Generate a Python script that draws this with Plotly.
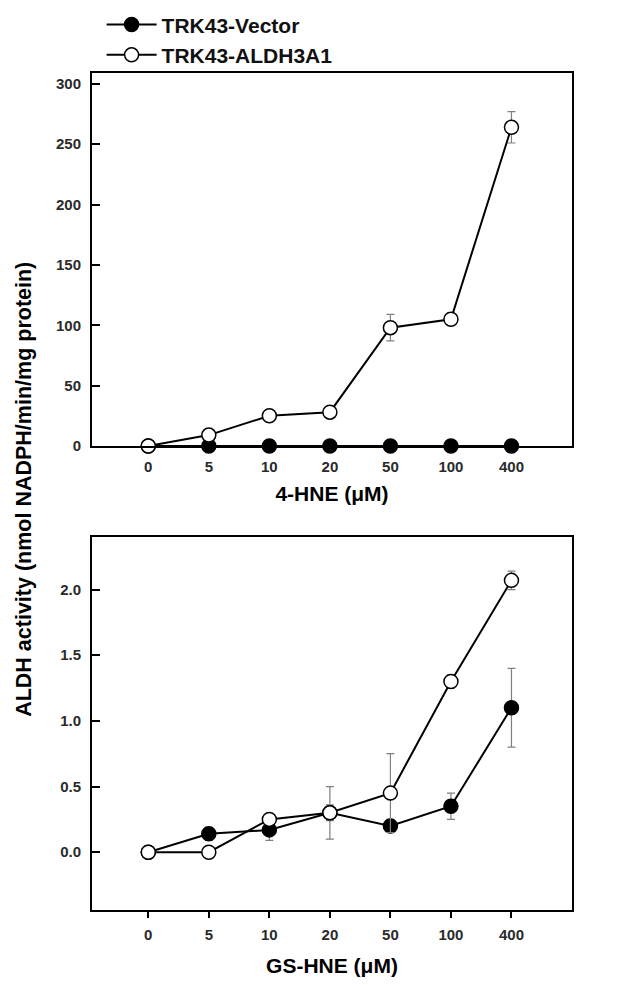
import plotly.graph_objects as go

conc_labels = ["0", "5", "10", "20", "50", "100", "400"]

hne_vector = [0, 0, 0, 0, 0, 0, 0]
hne_vector_err = [0, 0, 0, 0, 0, 0, 0]
hne_aldh = [0, 9, 25, 28, 98, 105, 264]
hne_aldh_err = [0, 1.5, 2, 4, 11, 5, 13]

gs_vector = [0, 0.14, 0.17, 0.30, 0.20, 0.35, 1.10]
gs_vector_err = [0, 0.05, 0.08, 0.06, 0.05, 0.10, 0.30]
gs_aldh = [0, 0, 0.25, 0.30, 0.45, 1.30, 2.07]
gs_aldh_err = [0, 0, 0.04, 0.20, 0.30, 0.05, 0.07]

top_ticks = [0, 50, 100, 150, 200, 250, 300]
bottom_ticks = [0.0, 0.5, 1.0, 1.5, 2.0]

xpos = list(range(len(conc_labels)))
FONT = "Liberation Sans, Arial, sans-serif"
TICKFONT = dict(family=FONT, size=15, color="#2a2a2a")

fig = go.Figure()

def add(y, err, filled, xa, ya, name, show):
    fig.add_trace(go.Scatter(
        x=xpos, y=y, mode="lines+markers", name="<b>" + name + "</b>", showlegend=show,
        xaxis=xa, yaxis=ya, cliponaxis=False,
        line=dict(color="black", width=2),
        marker=dict(size=14, symbol="circle",
                    color="black" if filled else "white",
                    line=dict(color="black", width=1.5)),
        error_y=dict(type="data", array=err, visible=True,
                     color="#808080", thickness=1.2, width=4),
    ))

add(hne_vector, hne_vector_err, True, "x", "y", "TRK43-Vector", True)
add(hne_aldh, hne_aldh_err, False, "x", "y", "TRK43-ALDH3A1", True)
add(gs_vector, gs_vector_err, True, "x2", "y2", "TRK43-Vector", False)
add(gs_aldh, gs_aldh_err, False, "x2", "y2", "TRK43-ALDH3A1", False)

axis_common = dict(showline=True, mirror=True, linecolor="black", linewidth=2,
                   showgrid=False, zeroline=False, tickfont=TICKFONT)

bold = lambda v: "<b>" + v + "</b>"

fig.update_layout(
    width=638, height=985,
    margin=dict(l=84, r=74, t=65, b=83, autoexpand=False),
    plot_bgcolor="white", paper_bgcolor="white",
    font=dict(family=FONT, color="black"),
    legend=dict(xref="paper", yref="paper", x=0.02, y=1.082,
                xanchor="left", yanchor="top",
                font=dict(family=FONT, size=21, color="#111111"),
                bgcolor="rgba(0,0,0,0)", tracegroupgap=0, itemwidth=50),
    xaxis=dict(domain=[0, 1], range=[-0.93, 7.0], tickmode="array",
               tickvals=xpos, ticktext=[bold(t) for t in conc_labels], ticks="", anchor="y",
               ticklabelstandoff=6,
               title=dict(text="<b>4-HNE (μM)</b>", font=dict(size=21, family=FONT), standoff=12),
               **axis_common),
    yaxis=dict(domain=[0.5544, 1], range=[0, 309], tickmode="array", tickvals=top_ticks,
               ticktext=[bold(str(t)) for t in top_ticks], ticklabelstandoff=6,
               ticks="inside", ticklen=8, tickwidth=2, tickcolor="black", anchor="x",
               **axis_common),
    xaxis2=dict(domain=[0, 1], range=[-0.93, 7.0], tickmode="array",
                tickvals=xpos, ticktext=[bold(t) for t in conc_labels], ticks="outside", ticklen=6,
                tickwidth=2, tickcolor="black", anchor="y2", ticklabelstandoff=4,
                title=dict(text="<b>GS-HNE (μM)</b>", font=dict(size=21, family=FONT), standoff=16),
                **axis_common),
    yaxis2=dict(domain=[0, 0.4456], range=[-0.44, 2.4], tickmode="array", tickvals=bottom_ticks,
                ticktext=[bold(f"{t:.1f}") for t in bottom_ticks], ticklabelstandoff=6,
                ticks="inside", ticklen=8, tickwidth=2, tickcolor="black",
                anchor="x2", **axis_common),
)

fig.add_annotation(text="<b>ALDH activity (nmol NADPH/min/mg protein)</b>",
                   xref="paper", yref="paper", x=-0.142, y=0.503,
                   xanchor="center", yanchor="middle",
                   textangle=-90, showarrow=False,
                   font=dict(family=FONT, size=21.5, color="black"))

fig.write_html("out.html")
